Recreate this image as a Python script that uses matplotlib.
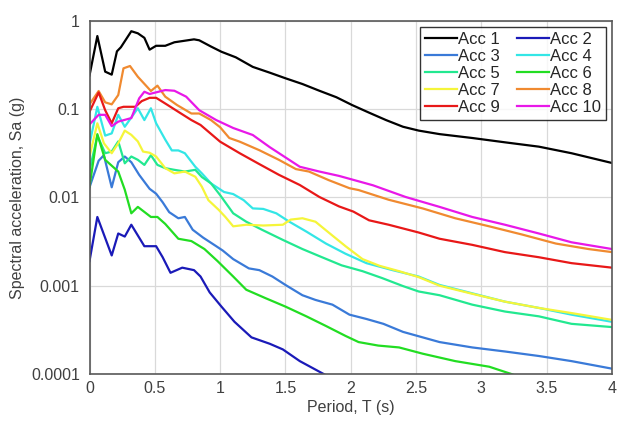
import matplotlib
matplotlib.use("Agg")
import matplotlib.pyplot as plt
from matplotlib.ticker import FixedLocator, FixedFormatter

# response spectra, period (s) vs spectral acceleration (g)
T1 = [0, 0.06, 0.12, 0.17, 0.21, 0.24, 0.32, 0.37, 0.42, 0.46, 0.51, 0.58, 0.65, 0.80, 0.84, 0.93, 1.01, 1.12,
      1.25, 1.38, 1.50, 1.63, 1.76, 1.89, 2.01, 2.14, 2.27, 2.40, 2.52, 2.68, 2.93, 3.18, 3.44, 3.69, 4.0]
S1 = [0.24, 0.67, 0.265, 0.245, 0.45, 0.50, 0.76, 0.72, 0.64, 0.47, 0.52, 0.52, 0.57, 0.615, 0.60, 0.51, 0.445,
      0.385, 0.30, 0.258, 0.223, 0.192, 0.161, 0.136, 0.111, 0.091, 0.075, 0.063, 0.057, 0.052, 0.047, 0.042,
      0.0375, 0.0316, 0.0245]

T2 = [0, 0.06, 0.17, 0.22, 0.27, 0.32, 0.42, 0.51, 0.56, 0.62, 0.71, 0.80, 0.85, 0.92, 1.01, 1.11, 1.24, 1.38,
      1.48, 1.61, 1.85]
S2 = [0.0019, 0.006, 0.0022, 0.0039, 0.0036, 0.0049, 0.0028, 0.0028, 0.0021, 0.0014, 0.0016, 0.0015, 0.00127,
      0.00084, 0.00058, 0.00039, 0.00026, 0.00022, 0.00019, 0.00014, 0.00009]

T3 = [0, 0.07, 0.11, 0.17, 0.22, 0.27, 0.32, 0.38, 0.46, 0.51, 0.56, 0.61, 0.68, 0.73, 0.79, 0.87, 0.97, 1.02,
      1.10, 1.22, 1.30, 1.40, 1.50, 1.63, 1.73, 1.86, 1.99, 2.12, 2.25, 2.40, 2.68, 2.93, 3.18, 3.44, 3.69, 4.0]
S3 = [0.013, 0.026, 0.030, 0.013, 0.025, 0.029, 0.025, 0.018, 0.0125, 0.011, 0.0088, 0.0068, 0.0058, 0.006,
      0.0043, 0.0035, 0.0028, 0.0025, 0.002, 0.00157, 0.0015, 0.00127, 0.00102, 0.00078, 0.00069, 0.00061,
      0.00047, 0.00042, 0.00037, 0.0003, 0.00023, 0.0002, 0.00018, 0.00016, 0.00014, 0.000115]

T4 = [0, 0.06, 0.12, 0.17, 0.22, 0.27, 0.37, 0.42, 0.47, 0.51, 0.58, 0.63, 0.68, 0.73, 0.81, 0.86, 0.93, 1.03,
      1.10, 1.18, 1.25, 1.33, 1.43, 1.53, 1.66, 1.81, 1.96, 2.12, 2.32, 2.52, 2.68, 2.93, 3.18, 3.44, 3.69, 4.0]
S4 = [0.04, 0.106, 0.05, 0.053, 0.086, 0.063, 0.102, 0.075, 0.102, 0.069, 0.045, 0.034, 0.034, 0.0316, 0.0222,
      0.0187, 0.0144, 0.0115, 0.0109, 0.0093, 0.0075, 0.0074, 0.0066, 0.0053, 0.0041, 0.003, 0.0023, 0.0018,
      0.0015, 0.00127, 0.00102, 0.00082, 0.00066, 0.00056, 0.00047, 0.00039]

T5 = [0, 0.06, 0.12, 0.17, 0.22, 0.27, 0.32, 0.37, 0.42, 0.47, 0.52, 0.58, 0.65, 0.73, 0.81, 0.86, 0.93, 1.0,
      1.10, 1.20, 1.32, 1.48, 1.63, 1.78, 1.93, 2.09, 2.24, 2.40, 2.52, 2.68, 2.93, 3.18, 3.44, 3.69, 4.0]
S5 = [0.02, 0.05, 0.0316, 0.033, 0.043, 0.0243, 0.029, 0.0266, 0.0233, 0.030, 0.0233, 0.0214, 0.0205, 0.0196,
      0.0205, 0.017, 0.0144, 0.0106, 0.0066, 0.0053, 0.0043, 0.0033, 0.0026, 0.0021, 0.0017, 0.00146, 0.00122,
      0.00099, 0.00086, 0.00078, 0.00061, 0.00051, 0.00045, 0.00037, 0.00034]

T6 = [0, 0.06, 0.12, 0.22, 0.27, 0.32, 0.37, 0.47, 0.52, 0.58, 0.68, 0.78, 0.88, 0.98, 1.10, 1.20, 1.35, 1.50,
      1.66, 1.81, 1.96, 2.06, 2.21, 2.37, 2.55, 2.80, 3.06, 3.23, 3.40]
S6 = [0.0132, 0.052, 0.0266, 0.0196, 0.0122, 0.0066, 0.0078, 0.006, 0.006, 0.005, 0.0034, 0.0032, 0.0026,
      0.0019, 0.00127, 0.0009, 0.00072, 0.00058, 0.00045, 0.00035, 0.00027, 0.00023, 0.00021, 0.0002, 0.00017,
      0.00014, 0.000121, 0.0001, 0.00008]

T7 = [0, 0.06, 0.11, 0.17, 0.22, 0.27, 0.32, 0.37, 0.41, 0.46, 0.51, 0.58, 0.65, 0.73, 0.81, 0.86, 0.91, 0.99,
      1.04, 1.10, 1.20, 1.33, 1.48, 1.54, 1.63, 1.73, 1.84, 1.96, 2.09, 2.22, 2.37, 2.52, 2.68, 2.93, 3.18, 3.44,
      3.69, 4.0]
S7 = [0.029, 0.069, 0.041, 0.0316, 0.041, 0.057, 0.051, 0.043, 0.033, 0.032, 0.029, 0.0214, 0.0187, 0.0196,
      0.0171, 0.0132, 0.0093, 0.0072, 0.006, 0.0047, 0.0049, 0.0048, 0.0049, 0.0056, 0.0058, 0.0053, 0.0039,
      0.0028, 0.002, 0.00168, 0.00146, 0.00125, 0.001, 0.00081, 0.00066, 0.00056, 0.00049, 0.00041]

T8 = [0, 0.07, 0.12, 0.17, 0.22, 0.26, 0.31, 0.37, 0.44, 0.47, 0.52, 0.58, 0.67, 0.78, 0.84, 0.93, 1.0, 1.07,
      1.15, 1.30, 1.45, 1.58, 1.68, 1.83, 1.99, 2.06, 2.29, 2.55, 2.80, 3.06, 3.31, 3.57, 3.82, 4.0]
S8 = [0.113, 0.16, 0.119, 0.113, 0.144, 0.289, 0.307, 0.232, 0.179, 0.16, 0.184, 0.138, 0.111, 0.089, 0.089,
      0.075, 0.0622, 0.047, 0.0427, 0.0342, 0.0266, 0.0209, 0.0196, 0.0157, 0.0127, 0.0121, 0.0094, 0.0075,
      0.0058, 0.0047, 0.0038, 0.003, 0.0026, 0.0024]

T9 = [0, 0.07, 0.12, 0.17, 0.22, 0.26, 0.35, 0.40, 0.46, 0.51, 0.59, 0.68, 0.78, 0.85, 1.0, 1.15, 1.30, 1.45,
      1.61, 1.76, 1.91, 2.02, 2.14, 2.29, 2.52, 2.68, 2.93, 3.18, 3.44, 3.69, 4.0]
S9 = [0.093, 0.154, 0.097, 0.069, 0.102, 0.106, 0.106, 0.123, 0.134, 0.134, 0.113, 0.093, 0.075, 0.066, 0.0427,
      0.0316, 0.0238, 0.018, 0.0138, 0.0101, 0.0079, 0.0069, 0.0055, 0.0049, 0.004, 0.0034, 0.0029, 0.0024,
      0.0021, 0.0018, 0.0016]

T10 = [0, 0.07, 0.12, 0.17, 0.22, 0.32, 0.38, 0.42, 0.46, 0.58, 0.65, 0.74, 0.84, 0.97, 1.10, 1.25, 1.38, 1.61,
       1.76, 1.91, 2.17, 2.42, 2.68, 2.93, 3.18, 3.44, 3.69, 4.0]
S10 = [0.067, 0.086, 0.086, 0.064, 0.072, 0.079, 0.132, 0.157, 0.148, 0.164, 0.161, 0.138, 0.097, 0.075, 0.061,
       0.0508, 0.037, 0.0222, 0.0196, 0.0175, 0.0137, 0.0101, 0.0078, 0.006, 0.0049, 0.0039, 0.0031, 0.0026]

labels = ["Acc %d" % (i + 1) for i in range(10)]
periods = [T1, T2, T3, T4, T5, T6, T7, T8, T9, T10]
spectra = [S1, S2, S3, S4, S5, S6, S7, S8, S9, S10]
colors = ["#000000", "#1a1ab8", "#3a7ad8", "#33e6e6", "#22e890",
          "#22dd22", "#f5f53a", "#f08a30", "#e81818", "#e818e8"]

x_ticks = [0, 0.5, 1, 1.5, 2, 2.5, 3, 3.5, 4]
y_ticks = [0.0001, 0.001, 0.01, 0.1, 1]
y_tick_labels = ["0.0001", "0.001", "0.01", "0.1", "1"]

plt.rcParams["font.family"] = ["Liberation Sans", "DejaVu Sans"]
txt = "#404040"

fig = plt.figure(figsize=(6.19, 4.26), dpi=100)
ax = fig.add_axes([0.1446, 0.122, 0.8441, 0.8294])

lines = []
for t, s, c, lab in zip(periods, spectra, colors, labels):
    ln, = ax.plot(t, s, color=c, lw=1.6, label=lab)
    lines.append(ln)

ax.set_yscale("log")
ax.set_xlim(0, 4)
ax.set_ylim(0.0001, 1)
ax.xaxis.set_major_locator(FixedLocator(x_ticks))
ax.set_xticklabels(["%g" % v for v in x_ticks])
ax.yaxis.set_major_locator(FixedLocator(y_ticks))
ax.yaxis.set_major_formatter(FixedFormatter(y_tick_labels))
ax.yaxis.set_minor_locator(FixedLocator([]))
ax.tick_params(length=0, labelsize=11.5, colors=txt)
ax.tick_params(axis="x", pad=5)
ax.tick_params(axis="y", pad=7)
ax.grid(True, color="#d9d9d9", lw=0.9)
ax.set_axisbelow(True)
for sp in ax.spines.values():
    sp.set_color("#595959")
    sp.set_linewidth(1.2)

ax.set_xlabel("Period, T (s)", fontsize=11.5, color=txt, labelpad=3)
ax.set_ylabel("Spectral acceleration, Sa (g)", fontsize=11.5, color=txt, labelpad=4)

# legend reads across rows: odd records on the left, even on the right
order = [0, 2, 4, 6, 8, 1, 3, 5, 7, 9]
leg = ax.legend([lines[i] for i in order], [labels[i] for i in order],
                ncol=2, loc="upper right", fontsize=12, frameon=True, fancybox=False,
                borderpad=0.3, labelspacing=0.12, handlelength=1.9, handletextpad=0.1,
                columnspacing=1.0, borderaxespad=0.35)
leg.get_frame().set_edgecolor("#000000")
leg.get_frame().set_linewidth(1.0)
for t in leg.get_texts():
    t.set_color("#262626")

fig.savefig("out.png", dpi=100)
